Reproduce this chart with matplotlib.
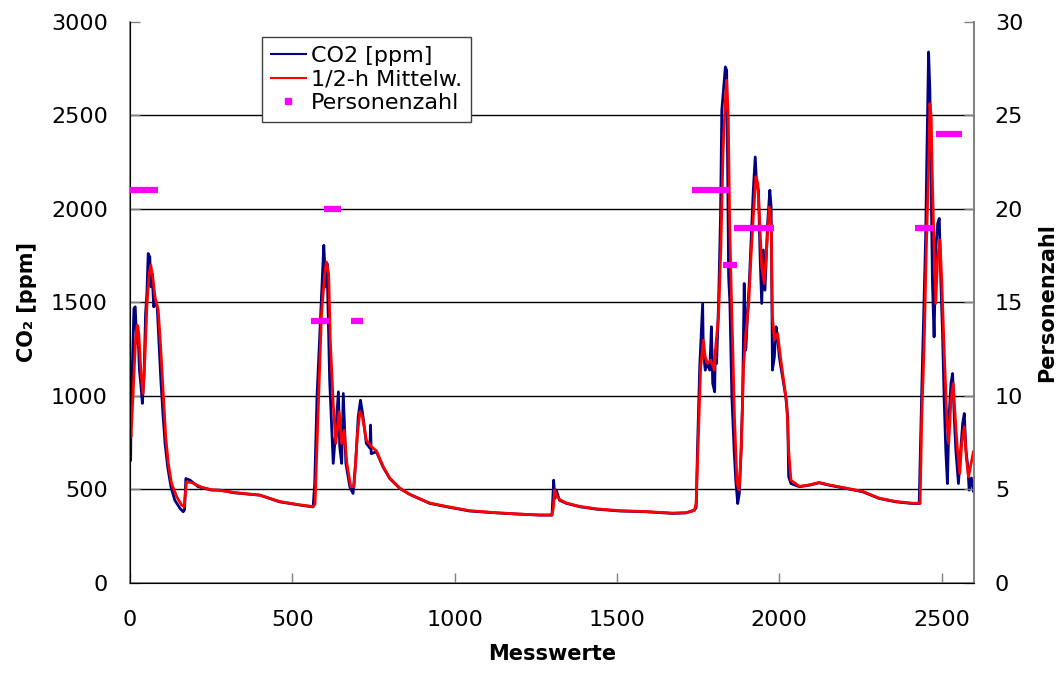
import matplotlib
matplotlib.use("Agg")
import matplotlib.pyplot as plt
from matplotlib.lines import Line2D

plt.rcParams['font.family'] = ['DejaVu Sans']

co2_x = [0, 2, 3, 7, 12, 16, 21, 24, 29, 34, 38, 43, 48, 52, 56, 61, 64, 68, 73, 79, 84, 89, 95,
         102, 108, 116, 126, 138, 154, 164, 168, 172, 185, 210, 251, 277, 323, 400, 461, 523, 564,
         569, 576, 585, 593, 597, 603, 607, 615, 626, 634, 642, 646, 652, 657, 665, 677, 687, 695,
         703, 710, 718, 728, 739, 741, 743, 759, 779, 800, 831, 862, 923, 974, 1046, 1128, 1200,
         1262, 1300, 1305, 1309, 1313, 1323, 1344, 1385, 1436, 1508, 1590, 1672, 1713, 1738, 1744,
         1748, 1755, 1764, 1766, 1772, 1779, 1786, 1791, 1795, 1801, 1803, 1807, 1813, 1819, 1823,
         1829, 1834, 1838, 1841, 1844, 1848, 1854, 1861, 1866, 1872, 1877, 1882, 1887, 1892, 1897,
         1903, 1908, 1913, 1920, 1926, 1930, 1936, 1941, 1946, 1951, 1956, 1964, 1971, 1975, 1977,
         1979, 1985, 1990, 1995, 2000, 2010, 2020, 2026, 2029, 2036, 2062, 2092, 2123, 2154, 2205,
         2257, 2308, 2359, 2410, 2431, 2434, 2439, 2444, 2451, 2455, 2460, 2464, 2468, 2472, 2477,
         2482, 2488, 2493, 2498, 2503, 2508, 2513, 2518, 2523, 2529, 2534, 2539, 2544, 2552, 2559,
         2565, 2570, 2575, 2581, 2585, 2592, 2598]
co2_y = [650, 655, 923, 1137, 1467, 1476, 1280, 1369, 1137, 1048, 959, 1101, 1440, 1547, 1761, 1743,
         1583, 1654, 1476, 1511, 1467, 1297, 1083, 887, 745, 620, 513, 441, 397, 379, 390, 557, 548,
         513, 495, 495, 480, 468, 432, 415, 405,
         530, 994, 1350, 1654, 1805, 1583, 1708, 1083, 638, 816, 1021, 727, 638, 1012, 638, 513, 477,
         639, 887, 976, 887, 745, 720, 843, 690, 700, 620, 557, 504, 472, 424, 406, 383, 373, 366,
         361, 361, 548, 450, 495, 441, 424, 406, 393, 383, 379, 370, 373, 388, 400,
         709, 1155, 1494, 1244, 1137, 1173, 1137, 1369, 1066, 1021, 1244, 1173, 1494, 1957, 2528,
         2653, 2760, 2742, 2225, 1637, 1494, 995, 709, 548, 423, 477, 691, 977, 1601, 1244,
         1458, 1619, 1815, 2100, 2278, 2136, 2100, 1744, 1494, 1780, 1565, 1922, 2100, 2011, 1601,
         1137, 1208, 1369, 1315, 1208, 1101, 995, 887, 566, 530, 513, 521, 534, 521, 504,
         486, 450, 432, 423, 423, 655, 1030, 1369, 1851, 2314, 2840, 2635, 2136, 1601, 1315,
         1780, 1922, 1949, 1601, 1333, 977, 709, 530, 887, 1066, 1119, 887, 709, 530, 709,
         852, 905, 709, 620, 495, 560, 490]

# half-hour running mean (ppm)
avg_x = [0, 3, 10, 17, 22, 27, 34, 40, 46, 52, 58, 64, 70, 77, 87, 95, 103, 110, 118, 128, 144, 159,
         167, 174, 190, 220, 251, 277, 323, 400, 461, 523, 564, 570,
         579, 590, 600, 605, 612, 617, 626, 634, 644, 652, 660, 668, 680, 690, 700, 708, 716, 728,
         744, 759, 779, 800, 831, 862, 923, 974, 1046, 1128, 1200, 1262, 1300, 1304, 1308, 1313,
         1323, 1344, 1385, 1436, 1508, 1590, 1672, 1713, 1738, 1744,
         1751, 1758, 1766, 1772, 1779, 1789, 1800, 1805, 1813, 1820, 1827, 1834, 1838, 1843, 1847,
         1852, 1857, 1862, 1870, 1876, 1883, 1890, 1897, 1906, 1913, 1920, 1928, 1934, 1940, 1946,
         1954, 1961, 1969, 1975, 1979, 1985, 1995, 2005, 2016, 2023, 2029, 2036, 2062, 2092, 2123,
         2154, 2205, 2257, 2308, 2359, 2410, 2431,
         2434, 2439, 2446, 2453, 2460, 2464, 2468, 2472, 2477, 2482, 2488, 2495, 2501, 2508, 2516,
         2522, 2529, 2536, 2542, 2549, 2556, 2562, 2570, 2577, 2583, 2598]
avg_y = [850, 780, 1030, 1297, 1378, 1333, 1119, 1012, 1208, 1476, 1636, 1699, 1636, 1529, 1458, 1244,
         994, 780, 638, 530, 459, 415, 406, 539, 535, 511, 497, 493, 482, 468, 434, 416, 407, 420,
         887, 1440, 1654, 1716, 1654, 1297, 959, 745, 914, 745, 816, 638, 513, 513, 780, 914, 887, 763,
         727, 705, 625, 560, 506, 472, 426, 408, 385, 374, 367, 362, 362, 400, 495, 470,
         445, 426, 408, 395, 385, 380, 372, 374, 385, 423,
         790, 1155, 1298, 1208, 1173, 1190, 1137, 1280, 1423, 1780, 2314, 2582, 2689, 2493, 1957,
         1565, 1244, 887, 530, 495, 709, 1155, 1333, 1494, 1744, 1957, 2172, 2136, 1922, 1690,
         1601, 1780, 2011, 1922, 1423, 1298, 1333, 1190, 1047, 959, 709, 548, 515, 523, 536,
         523, 506, 488, 452, 434, 425, 425,
         423, 887, 1244, 1780, 2225, 2564, 2493, 2136, 1780, 1494, 1744, 1833, 1601, 1244, 887,
         744, 977, 1066, 887, 709, 584, 744, 834, 655, 566, 700]

# number of persons present (right axis)
person_start = [0, 557, 597, 682, 1731, 1828, 1862, 2419, 2482]
person_end = [86, 613, 651, 718, 1846, 1869, 1983, 2477, 2564]
person_n = [21, 14, 20, 14, 21, 17, 19, 19, 24]

fig = plt.figure(figsize=(10.57, 6.79), dpi=100)
ax = fig.add_axes([0.123, 0.142, 0.7985, 0.8255])

ax.plot(co2_x, co2_y, color='#000080', lw=2.0, zorder=3)
ax.plot(avg_x, avg_y, color='#FF0000', lw=2.0, zorder=4)

ax.set_xlim(0, 2600)
ax.set_ylim(0, 3000)
ax.set_xticks(range(0, 2501, 500))
ax.set_yticks(range(0, 3001, 500))
ax.yaxis.grid(True, color='black', lw=1.0)
ax.get_ygridlines()[-1].set_visible(False)
ax.set_axisbelow(True)

for side in ['left', 'bottom', 'right']:
    ax.spines[side].set_color('#808080')
    ax.spines[side].set_linewidth(1.3)
ax.spines['top'].set_visible(False)

ax.tick_params(axis='both', direction='in', length=7, width=1, color='#808080',
               labelsize=16)
ax.tick_params(axis='x', pad=20)
ax.tick_params(axis='y', pad=16)

ax.set_xlabel('Messwerte', fontsize=15, fontweight='bold', labelpad=10)
ax.set_ylabel('CO₂ [ppm]', fontsize=15, fontweight='bold', labelpad=10)

ax2 = ax.twinx()
ax2.set_ylim(0, 30)
ax2.set_yticks(range(0, 31, 5))
ax2.hlines(person_n, person_start, person_end, colors='#FF00FF', lw=4.5, zorder=5)
ax2.spines['top'].set_visible(False)
ax2.spines['right'].set_color('#808080')
ax2.spines['right'].set_linewidth(1.3)
ax2.tick_params(axis='y', direction='in', length=7, width=1, color='#808080',
                labelsize=16, pad=15)
ax2.set_ylabel('Personenzahl', fontsize=15, fontweight='bold', labelpad=10)

handles = [
    Line2D([], [], color='#000080', lw=1.5),
    Line2D([], [], color='#FF0000', lw=1.5),
    Line2D([], [], color='#FF00FF', ls='none', marker='s', markersize=5),
]
leg = ax2.legend(handles, ['CO2 [ppm]', '1/2-h Mittelw.', 'Personenzahl'],
                 loc='upper left', bbox_to_anchor=(0.156, 0.973), fontsize=16,
                 frameon=True, fancybox=False, framealpha=1, edgecolor='#404040',
                 handlelength=1.6, handletextpad=0.2, labelspacing=0.15,
                 borderpad=0.4, borderaxespad=0)
leg.get_frame().set_linewidth(1.0)
leg.set_zorder(10)

fig.savefig('out.png', dpi=100)
